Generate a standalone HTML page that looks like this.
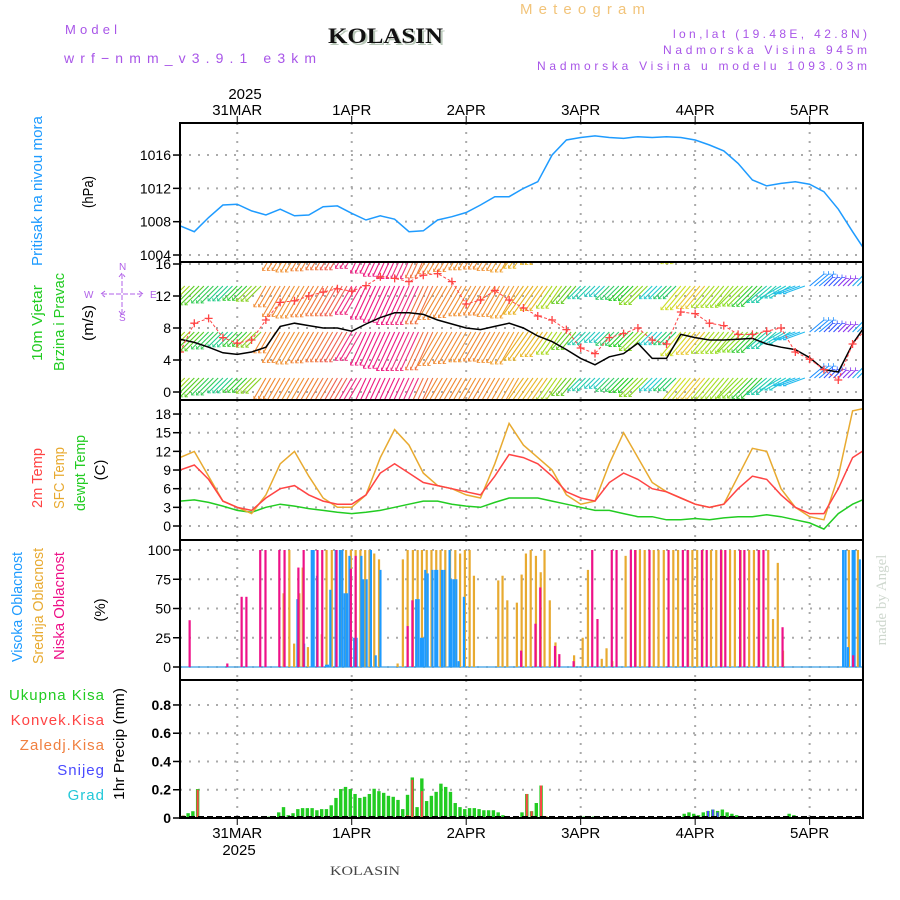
<!DOCTYPE html>
<html><head><meta charset="utf-8"><style>
html,body{margin:0;padding:0;background:#fff;}
svg{display:block;}
</style></head><body>
<svg id="chart" width="900" height="900" viewBox="0 0 900 900" xmlns="http://www.w3.org/2000/svg" font-family="Liberation Sans, sans-serif">
<defs>
<clipPath id="c1"><rect x="180" y="123" width="683" height="139"/></clipPath>
<clipPath id="c2"><rect x="180" y="262" width="683" height="138"/></clipPath>
<clipPath id="c3"><rect x="180" y="400" width="683" height="140"/></clipPath>
</defs>
<g>
<text x="65" y="34" font-size="13" fill="#a855e8" textLength="52">Model</text>
<text x="64" y="63" font-size="14" fill="#a855e8" textLength="252">wrf−nmm_v3.9.1 e3km</text>
<text x="330" y="45" font-size="22" font-weight="bold" font-family="Liberation Serif, serif" fill="#b8c8b8" textLength="115" lengthAdjust="spacingAndGlyphs">KOLASIN</text>
<text x="328" y="43" font-size="22" font-weight="bold" font-family="Liberation Serif, serif" fill="#111" textLength="115" lengthAdjust="spacingAndGlyphs">KOLASIN</text>
<text x="520" y="14" font-size="15" fill="#f2c47a" textLength="125">Meteogram</text>
<text x="673" y="38" font-size="12" fill="#a855e8" textLength="194">lon,lat (19.48E, 42.8N)</text>
<text x="663" y="54" font-size="12" fill="#a855e8" textLength="204">Nadmorska Visina 945m</text>
<text x="537" y="70" font-size="12" fill="#a855e8" textLength="330">Nadmorska Visina u modelu 1093.03m</text>
</g>
<g id="grid"></g>
<g id="marks"></g>
<g id="axes"></g>
<g font-size="15">
<text transform="translate(42,191) rotate(-90)" text-anchor="middle" fill="#1e9bff" textLength="150" lengthAdjust="spacingAndGlyphs">Pritisak na nivou mora</text>
<text transform="translate(93,192) rotate(-90)" text-anchor="middle" fill="#000" textLength="32" lengthAdjust="spacingAndGlyphs">(hPa)</text>
<text transform="translate(42,323) rotate(-90)" text-anchor="middle" fill="#22cc22" textLength="76" lengthAdjust="spacingAndGlyphs">10m Vjetar</text>
<text transform="translate(64,322) rotate(-90)" text-anchor="middle" fill="#22cc22" textLength="98" lengthAdjust="spacingAndGlyphs">Brzina i Pravac</text>
<text transform="translate(93,323) rotate(-90)" text-anchor="middle" fill="#000" textLength="36" lengthAdjust="spacingAndGlyphs">(m/s)</text>
<text transform="translate(42,478) rotate(-90)" text-anchor="middle" fill="#ff4444" textLength="60" lengthAdjust="spacingAndGlyphs">2m Temp</text>
<text transform="translate(64,478) rotate(-90)" text-anchor="middle" fill="#e8aa30" textLength="62" lengthAdjust="spacingAndGlyphs">SFC Temp</text>
<text transform="translate(85,473) rotate(-90)" text-anchor="middle" fill="#22cc22" textLength="76" lengthAdjust="spacingAndGlyphs">dewpt Temp</text>
<text transform="translate(105,470) rotate(-90)" text-anchor="middle" fill="#000">(C)</text>
<text transform="translate(22,607) rotate(-90)" text-anchor="middle" fill="#1e9bff" textLength="110" lengthAdjust="spacingAndGlyphs">Visoka Oblacnost</text>
<text transform="translate(43,606) rotate(-90)" text-anchor="middle" fill="#e8aa30" textLength="116" lengthAdjust="spacingAndGlyphs">Srednja Oblacnost</text>
<text transform="translate(64,606) rotate(-90)" text-anchor="middle" fill="#ee1188" textLength="108" lengthAdjust="spacingAndGlyphs">Niska Oblacnost</text>
<text transform="translate(105,610) rotate(-90)" text-anchor="middle" fill="#000">(%)</text>
<text transform="translate(124,744) rotate(-90)" text-anchor="middle" fill="#000" textLength="112" lengthAdjust="spacingAndGlyphs">1hr Precip (mm)</text>
</g>
<g font-size="15" text-anchor="end">
<text x="105" y="700" fill="#22cc22" letter-spacing="1">Ukupna Kisa</text>
<text x="105" y="725" fill="#ff4444" letter-spacing="1">Konvek.Kisa</text>
<text x="105" y="750" fill="#f08040" letter-spacing="1">Zaledj.Kisa</text>
<text x="105" y="775" fill="#4a4aff" letter-spacing="1">Snijeg</text>
<text x="105" y="800" fill="#22c8d8" letter-spacing="1">Grad</text>
</g>
<g font-size="10" fill="#b060e8" stroke="none">
<text x="119" y="270">N</text>
<text x="119" y="321">S</text>
<text x="84" y="298">W</text>
<text x="150" y="298">E</text>
<path d="M122 274 V314 M102 294 H142 M119 277 L122 273 L125 277 M119 311 L122 315 L125 311 M105 291 L101 294 L105 297 M139 291 L143 294 L139 297" stroke="#b060e8" fill="none" stroke-width="1" stroke-dasharray="5,2"/>
</g>
<text transform="translate(886,600) rotate(-90)" text-anchor="middle" font-family="Liberation Serif, serif" font-size="15" fill="#cfd8cf">made by Angel</text>
<text x="330" y="875" font-family="Liberation Serif, serif" font-size="13" fill="#444" textLength="70" lengthAdjust="spacingAndGlyphs">KOLASIN</text>
</svg>
<script>
// ---- data (3-hourly from 30MAR 12Z) ----
const pressure = [1007.5,1006.8,1008.5,1010,1010.1,1009.3,1008.8,1009.5,1008.7,1008.8,1009.8,1009.9,1009,1008.2,1008.7,1008.3,1006.8,1006.9,1008.2,1008.6,1009.1,1010,1011,1011,1012,1012.8,1016,1017.8,1018.1,1018.3,1018.1,1018,1018.2,1018.1,1018.2,1018.1,1017.8,1017.2,1016.5,1015,1013,1012.3,1012.6,1012.8,1012.5,1011.6,1009.5,1006.8,1004.2];
const windSpeed = [6.6,6.2,5.6,4.9,4.7,5,5.6,8.2,8.6,8.3,8,8,7.6,8.5,9.3,9.9,9.9,9.7,9,8.5,8,7.8,8.2,8.6,8,7,6.3,5.3,4.2,3.4,4.4,4.8,6.1,4.2,4.2,7.2,6.8,6.5,6.5,6.6,6.7,6,5.6,5.3,4.3,2.8,2.5,6,8.6];
const windGust = [5,8.6,9.2,6.8,6.1,6.5,9,11.2,11.4,12,12.5,12.9,12.6,13.3,14.4,14.2,13.8,14.6,14.8,13.8,11,11.5,12.7,11.5,10.5,9.5,9,7.8,5.5,4.8,6.8,7.3,8,6.5,6,10,9.8,8.6,8.3,7.2,7.2,7.6,8,5,4.1,2.8,1.5,6,8];
const windDir = [45,45,45,45,45,45,30,30,30,30,30,30,30,25,25,25,25,25,30,30,30,30,30,30,35,35,35,40,45,45,45,45,45,45,45,40,40,40,40,45,45,50,60,70,230,225,225,225,225];
const windColor = ['#9dd51a','#55cc22','#33cc55','#22cc88','#33cc33','#88d020','#f08830','#f08830','#f09030','#f08030','#f07840','#f06050','#ee2a80','#ee1a80','#ee1a80','#ee1a80','#ee3080','#f07040','#f08830','#f08830','#f09030','#f08830','#f09030','#f0a030','#e8b020','#e8b828','#aad820','#66cc22','#22ccaa','#22c8c0','#33cc66','#22cc22','#88d822','#22cccc','#22cc66','#ccdd22','#e8c830','#aadd22','#99dd22','#88dd22','#33cc33','#22ccaa','#22cccc','#22bbee','#1e8fff','#3355ff','#8833ee','#22aaee','#22cc88'];
const temp2m = [9,9.8,7.5,4,3,2.5,4.5,6,6.5,5,4,3.5,3.5,5,8.5,10,8.5,7,6.5,6,5.5,5,8,11.5,11,10,8,5.5,4.5,4,7,8.5,7.5,6,5.5,4.5,3.5,3,3.5,6,8,7.5,5,3,2,2,6,11,12.5];
const tempSfc = [11,12,8,4,3,2,5,10,12,8,4.5,3,3,5,11,15.5,13,8.5,6.5,6,5,4.5,10,16.5,13,11,9,5,3.5,4,10,15,11,7,5.5,4.5,3.5,3,3.5,8,12.5,12,6,3,1.5,1,8,18.5,19];
const dewpt = [4,4.2,3.8,3.2,2.5,2.2,3,3.5,3.2,2.8,2.5,2.2,2,2.2,2.5,3,3.5,4,4,3.5,3.2,3,3.8,4.5,4.5,4.5,4,3.5,3,2.5,2.5,2,1.5,1.5,1,1,1.2,1,1.3,1.5,1.5,1.8,1.5,1,0.5,-0.5,2,3.5,4.5];
// cloud cover: [hour, percent]
const cloudLow = [[2,40],[9.9,3],[12.9,60],[13.9,60],[16.8,100],[17.9,100],[20.8,100],[21.9,100],[24.8,85],[25.9,100],[28.8,100],[29.8,100],[32.8,100],[35.8,84],[36.8,95],[47.7,35],[48.7,57],[71.5,14],[74.5,37],[75.5,68],[78.6,18],[79.5,11],[82.5,5],[86.4,100],[87.5,41],[90.5,100],[91.5,100],[94.5,100],[95.4,100],[98.4,100],[102.4,100],[105.4,100],[106.4,100],[109.4,100],[110.4,100],[113.4,100],[114.3,100],[117.4,100],[118.3,100],[121.3,100],[122.3,100],[126.3,34],[141.1,10]];
const cloudMid = [[21.7,63],[22.9,100],[23.9,20],[25.0,63],[25.7,85],[26.8,17],[29.7,28],[30.7,100],[31.8,100],[33.8,100],[34.8,100],[35.8,100],[36.8,100],[37.8,100],[38.8,100],[39.7,100],[40.7,97],[41.7,92],[45.6,3],[46.7,92],[47.7,100],[48.8,100],[49.8,100],[50.7,100],[51.7,100],[52.7,100],[53.7,100],[54.6,100],[55.6,100],[56.6,100],[57.7,100],[58.7,97],[59.7,100],[60.7,100],[61.6,78],[66.7,74],[67.6,78],[68.6,57],[70.6,55],[71.6,79],[72.5,97],[73.5,100],[74.6,95],[75.6,81],[76.4,100],[77.5,57],[78.7,21],[82.6,10],[84.4,25],[85.5,83],[88.4,7],[89.4,16],[90.6,5],[93.4,95],[95.5,100],[96.4,100],[97.4,100],[99.3,100],[100.3,100],[101.4,100],[103.4,100],[104.4,100],[106.5,100],[107.4,100],[108.4,100],[109.5,100],[111.3,100],[112.4,100],[113.5,100],[115.3,100],[116.3,100],[117.5,100],[119.3,100],[120.3,100],[121.4,100],[123.3,100],[124.3,41],[125.3,89],[126.4,14],[140.2,100],[142.1,100]];
const cloudHigh = [[24.6,58],[26.0,20],[27.6,100],[28.0,100],[28.7,78],[30.6,2],[31.0,2],[31.5,66],[32.6,100],[33.5,100],[34.0,100],[34.5,63],[35.0,63],[35.5,95],[36.5,25],[37.0,25],[38.0,95],[38.4,75],[39.1,75],[40.0,100],[41.0,10],[42.0,83],[49.5,58],[50.0,58],[50.5,25],[50.9,25],[51.4,83],[51.9,80],[52.9,83],[53.5,83],[53.9,83],[54.9,83],[55.4,83],[56.5,100],[56.9,75],[57.4,75],[57.9,75],[58.4,5],[59.5,60],[139,100],[139.5,100],[140,17],[141,100],[141.4,100],[142.5,92]];
// hourly precipitation (mm)
const precipTotal = [0.017,0.034,0.048,0.205,0,0,0,0,0,0,0,0.01,0,0,0,0,0,0,0.01,0.01,0.04,0.077,0.02,0.034,0.063,0.07,0.07,0.07,0.055,0.063,0.063,0.09,0.142,0.205,0.22,0.205,0.17,0.142,0.15,0.17,0.207,0.19,0.178,0.157,0.15,0.128,0.063,0.164,0.287,0.077,0.28,0.12,0.157,0.185,0.243,0.22,0.185,0.106,0.077,0.063,0.07,0.07,0.063,0.055,0.055,0.055,0.04,0.02,0,0,0,0.04,0.17,0.048,0.106,0.23,0.012,0,0,0,0,0,0,0,0.01,0,0.01,0.01,0,0,0,0,0,0,0,0,0,0,0,0,0,0,0,0,0,0.03,0.04,0.03,0.02,0.04,0.05,0.06,0.05,0.06,0.04,0.03,0.02,0.01,0,0,0,0,0,0,0,0,0,0.03,0.02,0,0,0,0,0,0,0,0,0,0,0,0,0,0];
const precipConv = [[0,0.017],[3,0.2],[47,0.02],[48,0.27],[50,0.19],[72,0.17],[73,0.048],[75,0.23],[76,0.012]];
const precipSnow = [[110,0.05],[111,0.06],[112,0.04]];
const dayLabels = ['31MAR','1APR','2APR','3APR','4APR','5APR'];
const dayHours = [12,36,60,84,108,132];
const pressTicks = [1004,1008,1012,1016];
const windTicks = [0,4,8,12,16];
const tempTicks = [0,3,6,9,12,15,18];
const cloudTicks = [0,25,50,75,100];
const precipTicks = [0,0.2,0.4,0.6,0.8];

const NS='http://www.w3.org/2000/svg';
const L=180,R=863;
const xS=h=>L+h*4.77;
const yP=v=>255-(v-1004)*8.33;
const yW=v=>392-v*8;
const yT=v=>526-v*6.22;
const yC=v=>667-v*1.17;
const yR=v=>818-v*141.3;
function mk(tag,attrs,parent){const e=document.createElementNS(NS,tag);for(const k in attrs)e.setAttribute(k,attrs[k]);parent.appendChild(e);return e;}
const grid=document.getElementById('grid'),marks=document.getElementById('marks'),axes=document.getElementById('axes');
const panels=[{t:123,b:262,ticks:pressTicks,y:yP,name:'pressure'},{t:262,b:400,ticks:windTicks,y:yW,name:'wind'},{t:400,b:540,ticks:tempTicks,y:yT,name:'temperature'},{t:540,b:680,ticks:cloudTicks,y:yC,name:'cloud'},{t:680,b:818,ticks:precipTicks,y:yR,name:'precip'}];
panels.forEach(p=>{
  dayHours.forEach(h=>{
    const g=mk('line',{x1:xS(h),x2:xS(h),y1:p.t,y2:p.b,stroke:'#aaa','stroke-width':2,'stroke-dasharray':'2,7'},grid);
    
    
  });
  p.ticks.forEach(v=>{
    const y=p.y(v);
    const g=mk('line',{x1:L,x2:R,y1:y,y2:y,stroke:'#aaa','stroke-width':2,'stroke-dasharray':'2,7'},grid);
    
    
    const tk=mk('line',{x1:173,x2:L,y1:y,y2:y,stroke:'#000','stroke-width':1.5},axes);
    
    
    const tx=mk('text',{x:171,y:y+5,'text-anchor':'end','font-size':14,fill:'#000','font-weight':p.name==='precip'?'bold':'normal'},axes);
    tx.textContent=p.name==='precip'?(v===0?'0':v.toFixed(1)):String(v);
    
    
  });
  const fr=mk('rect',{x:L,y:p.t,width:R-L,height:p.b-p.t,fill:'none',stroke:'#000','stroke-width':2},axes);
  
  
});
dayHours.forEach((h,i)=>{
  const x=xS(h);
  mk('line',{x1:x,x2:x,y1:116,y2:123,stroke:'#000'},axes);
  mk('line',{x1:x,x2:x,y1:818,y2:825,stroke:'#000'},axes);
  const t=mk('text',{x:x,y:115,'text-anchor':'middle','font-size':15},axes);t.textContent=dayLabels[i];
  
  
  const b=mk('text',{x:x,y:838,'text-anchor':'middle','font-size':15},axes);b.textContent=dayLabels[i];
  
  
});
[[245,99],[239,855]].forEach(([x,y])=>{const t=mk('text',{x:x,y:y,'text-anchor':'middle','font-size':15},axes);t.textContent='2025';
  
  });

function line(arr,yf,color,clip,name,extra){
  const d=arr.map((v,i)=>(i?'L':'M')+xS(i*3).toFixed(1)+' '+yf(v).toFixed(1)).join(' ');
  const p=mk('path',Object.assign({d:d,fill:'none',stroke:color,'stroke-width':1.5,'clip-path':'url(#'+clip+')'},extra||{}),marks);
  
  
  return p;
}
line(pressure,yP,'#1e9bff','c1','pressure-line');
// wind arrows
const wg=mk('g',{'clip-path':'url(#c2)','stroke-width':1.1},marks);


const anchors=[240,286,332,378];
windSpeed.forEach((s,i)=>{
  const a=windDir[i]*Math.PI/180,len=s*4.3;
  const dx=-Math.sin(a)*len,dy=Math.cos(a)*len;
  for(let k=0;k<3;k++){
    const x=xS(i*3+k);
    anchors.forEach(y0=>{
      const ln=mk('line',{x1:x,y1:y0,x2:x+dx,y2:y0+dy,stroke:windColor[i]},wg);
      
      
      const hx=x+dx,hy=y0+dy;
      const hd=mk('path',{d:`M${hx+3} ${hy} L${hx} ${hy} L${hx} ${hy-3}`,fill:'none',stroke:windColor[i],'stroke-width':0.8},wg);
      
      
    });
  }
});
line(windSpeed,yW,'#000','c2','wind-speed-line');
line(windGust,yW,'#ff4444','c2','wind-gust-line',{'stroke-dasharray':'3,2','stroke-width':1});
windGust.forEach((v,i)=>{
  const x=xS(i*3),y=yW(v);
  const m=mk('path',{d:`M${x-4} ${y}H${x+4}M${x} ${y-4}V${y+4}`,stroke:'#ff4444','stroke-width':1.3,'clip-path':'url(#c2)'},marks);
  
  
});
line(dewpt,yT,'#22cc22','c3','dewpoint-line');
line(tempSfc,yT,'#e8aa30','c3','sfc-temp-line');
line(temp2m,yT,'#ff4444','c3','temp-2m-line');
// clouds
const cb=mk('line',{x1:L,x2:R,y1:667,y2:667,stroke:'#5aaee8','stroke-width':1.5},marks);


function cbars(arr,color,off,name){arr.forEach(([h,v])=>{
  const r=mk('rect',{x:xS(h)+off,y:yC(v),width:2.2,height:667-yC(v),fill:color},marks);
  
  
});}
cbars(cloudMid,'#e8aa30',-1,'mid-cloud-bar');
cbars(cloudHigh,'#1e9bff',-1,'high-cloud-bar');
cbars(cloudLow,'#ee1188',-1,'low-cloud-bar');
// precip
precipTotal.forEach((v,h)=>{ if(v<=0)return;
  const r=mk('rect',{x:xS(h+0.7)-1.7,y:yR(v),width:3.4,height:818-yR(v),fill:'#22cc22'},marks);
  
  
});
precipConv.forEach(([h,v])=>{
  const r=mk('rect',{x:xS(h+0.7)-1,y:yR(v),width:2,height:818-yR(v),fill:'#ff4444'},marks);
  
  
});
precipSnow.forEach(([h,v])=>{
  const r=mk('rect',{x:xS(h+0.7)-1,y:yR(v),width:2,height:818-yR(v),fill:'#4a4aff'},marks);
  
  
});
const pb=mk('line',{x1:L,x2:R,y1:817,y2:817,stroke:'#000','stroke-width':2,'stroke-dasharray':'6,3'},marks);


</script>
</body></html>
